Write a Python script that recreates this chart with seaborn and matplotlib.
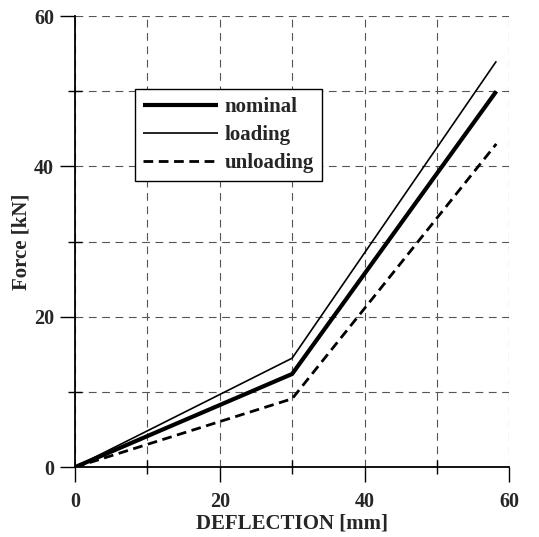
import matplotlib
matplotlib.use("Agg")
import matplotlib.pyplot as plt
import seaborn as sns
import pandas as pd
from matplotlib.ticker import MultipleLocator

deflection = [0, 30, 58.2]
nominal = [0, 12.4, 50.0]
loading = [0, 14.5, 54.0]
unloading = [0, 9.1, 43.0]
series_names = ["nominal", "loading", "unloading"]

sns.set_theme(style="white")
plt.rcParams["font.family"] = ["Liberation Serif", "DejaVu Serif"]
plt.rcParams["font.weight"] = "bold"

fig = plt.figure(figsize=(5.39, 5.37), dpi=100)
ax = fig.add_axes([0.139, 0.130, 0.806, 0.840])

styles = {
    "nominal": dict(linewidth=3.0, linestyle="-"),
    "loading": dict(linewidth=1.2, linestyle="-"),
    "unloading": dict(linewidth=2.0, linestyle=(0, (3.5, 2.0))),
}
values = {"nominal": nominal, "loading": loading, "unloading": unloading}
for name in series_names:
    df = pd.DataFrame({"x": deflection, "y": values[name]})
    sns.lineplot(data=df, x="x", y="y", ax=ax, color="black", label=name,
                 solid_capstyle="butt", dash_capstyle="butt", **styles[name])

ax.set_xlim(0, 60)
ax.set_ylim(0, 60)
ax.xaxis.set_major_locator(MultipleLocator(20))
ax.yaxis.set_major_locator(MultipleLocator(20))
ax.xaxis.set_minor_locator(MultipleLocator(10))
ax.yaxis.set_minor_locator(MultipleLocator(10))

ax.grid(True, which="both", color="#555555", linestyle=(0, (7, 5)), linewidth=0.8)
ax.set_axisbelow(True)

for s in ["top", "right"]:
    ax.spines[s].set_visible(False)
for s in ["left", "bottom"]:
    ax.spines[s].set_color("black")
    ax.spines[s].set_linewidth(1.3)

ax.tick_params(which="major", direction="out", length=11, width=1.0, color="black",
               labelsize=14.5, left=True, bottom=True)
ax.tick_params(axis="x", which="major", pad=7)
ax.tick_params(axis="y", which="major", pad=4)
ax.tick_params(which="minor", direction="inout", length=10, width=1.0, color="black",
               left=True, bottom=True)
for lab in ax.get_xticklabels() + ax.get_yticklabels():
    lab.set_fontweight("bold")

ax.set_xlabel("DEFLECTION [mm]", fontsize=15, fontweight="bold", labelpad=1)
ax.set_ylabel("Force [kN]", fontsize=15, fontweight="bold", labelpad=2)

leg = ax.legend(loc="upper left", bbox_to_anchor=(0.138, 0.838), borderaxespad=0,
                fancybox=False, frameon=True, edgecolor="black", framealpha=1,
                prop={"weight": "bold", "size": 15}, handlelength=3.6,
                handletextpad=0.33, labelspacing=0.38, borderpad=0.38)
leg.get_frame().set_linewidth(1.0)

fig.savefig("out.png", dpi=100)
